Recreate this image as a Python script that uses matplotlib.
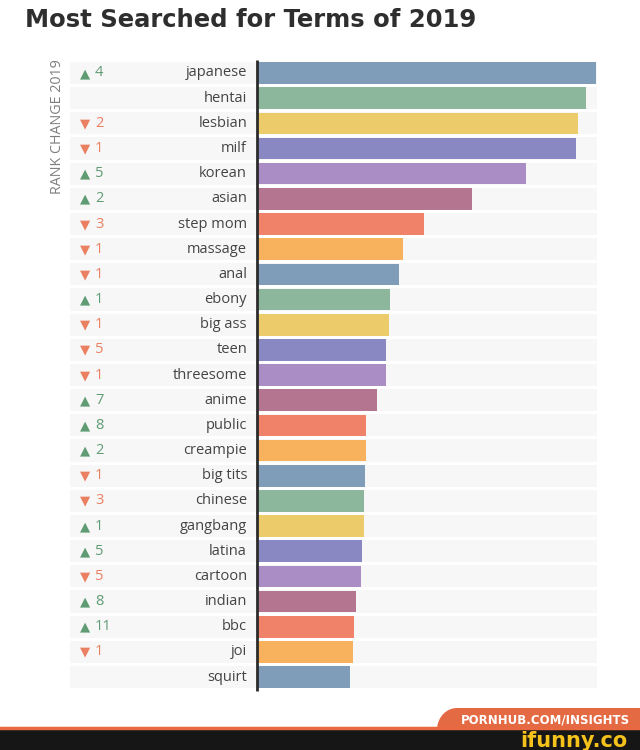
import numpy as np
import matplotlib.pyplot as plt
from matplotlib.patches import Polygon, Rectangle

# --- data ---
terms = ['japanese', 'hentai', 'lesbian', 'milf', 'korean', 'asian', 'step mom',
         'massage', 'anal', 'ebony', 'big ass', 'teen', 'threesome', 'anime',
         'public', 'creampie', 'big tits', 'chinese', 'gangbang', 'latina',
         'cartoon', 'indian', 'bbc', 'joi', 'squirt']
# relative search volume (japanese = 100)
volume = [100, 97.0, 94.6, 94.1, 79.4, 63.4, 49.3, 43.0, 41.8, 39.3, 39.0, 38.1,
          38.0, 35.3, 32.2, 32.1, 31.9, 31.7, 31.5, 31.1, 30.7, 29.2, 28.6, 28.2, 27.5]
# rank change vs previous year (+ up, - down, 0 = no change shown)
rank_change = [4, 0, -2, -1, 5, 2, -3, -1, -1, 1, -1, -5, -1, 7, 8, 2, -1, -3, 1,
               5, -5, 8, 11, -1, 0]

palette = ['#7f9db8', '#8cb79d', '#eccb6b', '#8a88c2', '#ab8dc5', '#b37590',
           '#f0826a', '#f8b15d']

W, H = 640, 750
fig = plt.figure(figsize=(6.4, 7.5), dpi=100)
fig.patch.set_facecolor('white')

# axes spans the label column and the bars; origin of bars at x=257px
ax_left_px, ax_right_px = 70, 597
ax_top_px, row_h = 60.4, 25.17
n = len(terms)
ax = fig.add_axes([ax_left_px / W, 1 - (ax_top_px + n * row_h) / H,
                   (ax_right_px - ax_left_px) / W, n * row_h / H])
px_per_unit = 339 / 100.0
x0 = -(257 - ax_left_px) / px_per_unit
x1 = x0 + (ax_right_px - ax_left_px) / px_per_unit
ax.set_xlim(x0, x1)
ax.set_ylim(n - 0.5, -0.5)
ax.axis('off')

def px2x(px):
    return x0 + (px - ax_left_px) / px_per_unit

y = np.arange(n)
# light row bands
ax.barh(y, x1 - x0, left=x0, height=0.88, color='#f7f7f7', zorder=0)
colors = [palette[i % len(palette)] for i in range(n)]
ax.barh(y, volume, left=0, height=0.86, color=colors, zorder=2)
ax.plot([0, 0], [-0.5, n - 0.45], color='#2b2b2b', lw=2, zorder=3,
        solid_capstyle='butt', clip_on=False)

for i, term in enumerate(terms):
    ax.text(px2x(247), i, term, ha='right', va='center', fontsize=10.5,
            color='#444444', family='Open Sans')
    rc = rank_change[i]
    if rc != 0:
        if rc > 0:
            sym, col = '\u25B2', '#5f9b73'
        else:
            sym, col = '\u25BC', '#ea7f62'
        ax.text(px2x(85), i + 0.02, sym, ha='center', va='center', fontsize=9.5,
                color=col, family='DejaVu Sans')
        ax.text(px2x(95), i, str(abs(rc)), ha='left', va='center', fontsize=10.5,
                color=col, family='Open Sans')

fig.text(58 / W, 1 - 127 / H, 'RANK CHANGE 2019', rotation=90, ha='center',
         va='center', fontsize=10.3, color='#7e7e7e', family='Open Sans')

fig.text(25 / W, 1 - 20 / H, 'Most Searched for Terms of 2019', ha='left',
         va='center', fontsize=17.5, fontweight='bold', color='#2e2e2e',
         family='DejaVu Sans')

# footer drawn in a pixel-space overlay
ov = fig.add_axes([0, 0, 1, 1], zorder=5)
ov.set_xlim(0, W)
ov.set_ylim(H, 0)
ov.axis('off')
ov.patch.set_alpha(0)
ov.plot([0, W], [728, 728], color='#e8693f', lw=2.5)
t = np.linspace(0, np.pi / 2, 20)
curve = np.column_stack([437 + 20 * (1 - np.cos(t)), 730 - 22 * np.sin(t)])
tab = np.vstack([curve, [[W, 708], [W, 730]]])
ov.add_patch(Polygon(tab, closed=True, color='#e46a43', lw=0))
ov.text(545, 720, 'PORNHUB.COM/INSIGHTS', ha='center', va='center',
        fontsize=8.5, fontweight='bold', color='white', family='DejaVu Sans')
ov.add_patch(Rectangle((0, 730), W, 20, color='#161616', lw=0))
ov.text(628, 741, 'ifunny.co', ha='right', va='center',
        fontsize=15, fontweight='bold', color='#f4c21b', family='DejaVu Sans')

fig.savefig('out.png', dpi=100)
